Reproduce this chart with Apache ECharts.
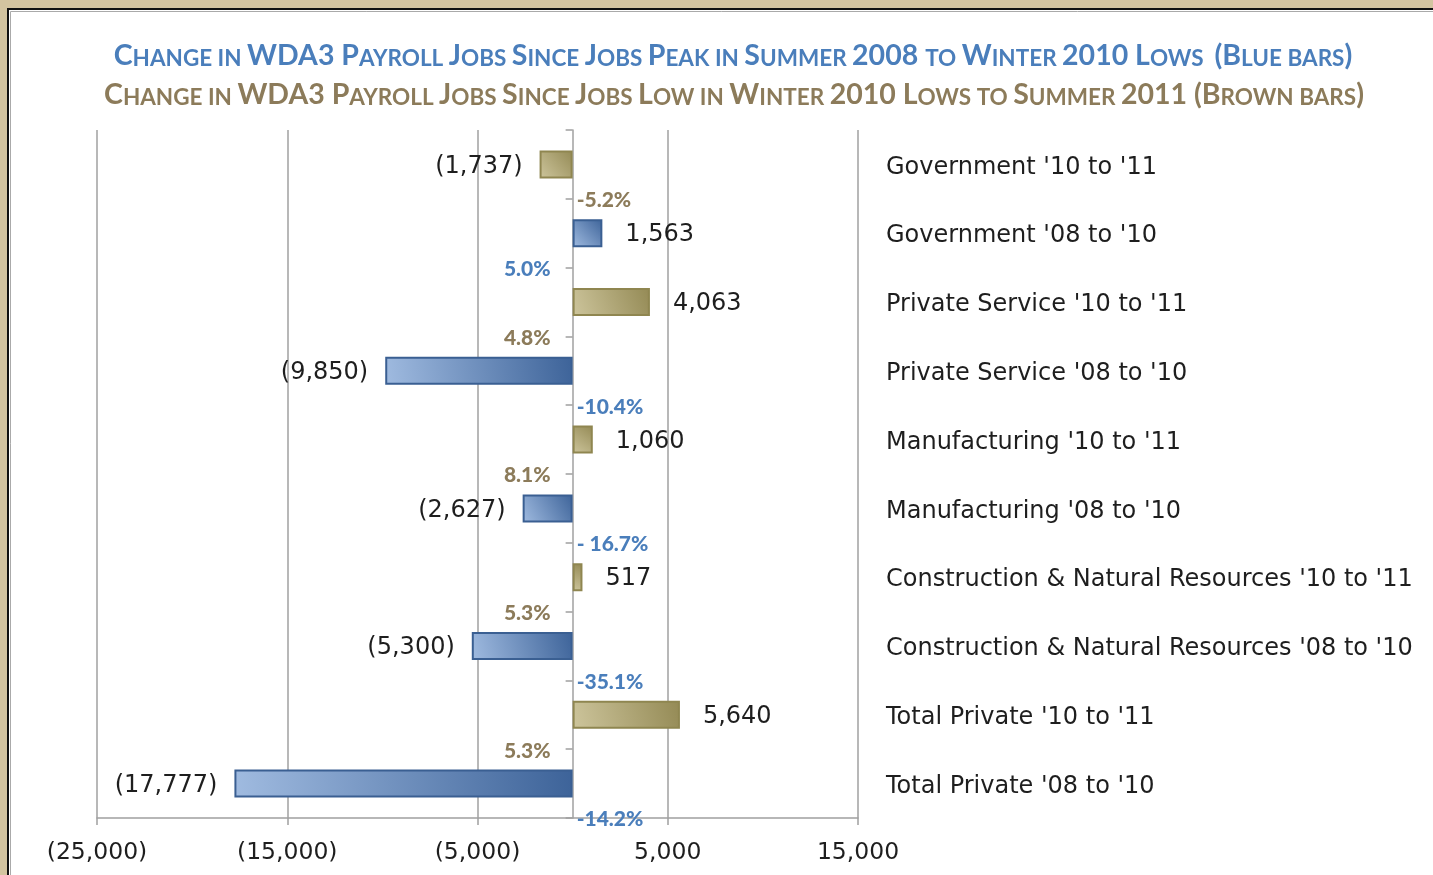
<!DOCTYPE html>
<html>
<head>
<meta charset="utf-8">
<script src="https://cdn.jsdelivr.net/npm/echarts@6/dist/echarts.min.js"></script>
<style>
  html, body { margin: 0; padding: 0; background: #fff; }
  #chart { width: 1433px; height: 875px; }
</style>
</head>
<body>
<div id="chart"></div>
<script>
// categories, top to bottom
var categories = [
  "Government '10 to '11",
  "Government '08 to '10",
  "Private Service '10 to '11",
  "Private Service '08 to '10",
  "Manufacturing '10 to '11",
  "Manufacturing '08 to '10",
  "Construction & Natural Resources '10 to '11",
  "Construction & Natural Resources '08 to '10",
  "Total Private '10 to '11",
  "Total Private '08 to '10"
];
// brown = winter 2010 lows -> summer 2011, blue = summer 2008 peak -> winter 2010
var brownVals = [-1737, '-', 4063, '-', 1060, '-', 517, '-', 5640, '-'];
var blueVals = ['-', 1563, '-', -9850, '-', -2627, '-', -5300, '-', -17777];
var pctLabels = ['-5.2%', '5.0%', '4.8%', '-10.4%', '8.1%', '- 16.7%', '5.3%', '-35.1%', '5.3%', '-14.2%'];
var xTicks = { min: -25000, max: 15000, step: 10000 };

var titleLine1 = 'Change in WDA3 Payroll Jobs Since Jobs Peak in Summer 2008 to Winter 2010 Lows  (Blue bars)';
var titleLine2 = 'Change in WDA3 Payroll Jobs Since Jobs Low in Winter 2010 Lows to Summer 2011 (Brown bars)';

var BLUE = '#4a7ebb', BROWN = '#8c7b5a';
var textFont = 'DejaVu Sans';

function fmt(v) {
  var s = Math.abs(v).toLocaleString('en-US');
  return v < 0 ? '(' + s + ')' : s;
}

// fake small caps with rich text
function smallCaps(str) {
  var out = '', cur = null, buf = '';
  for (var i = 0; i < str.length; i++) {
    var c = str[i];
    var t = (c >= 'a' && c <= 'z') ? 's' : (c === ' ' ? (cur || 'b') : 'b');
    if (t !== cur && buf) { out += '{' + cur + '|' + buf + '}'; buf = ''; }
    cur = t;
    buf += c.toUpperCase();
  }
  if (buf) out += '{' + cur + '|' + buf + '}';
  return out;
}
function capsRich(color) {
  return {
    b: { fontFamily: 'Lato', fontWeight: 'bold', fontSize: 28.5, color: color, verticalAlign: 'bottom', lineHeight: 30 },
    s: { fontFamily: 'Lato', fontWeight: 'bold', fontSize: 22.5, color: color, verticalAlign: 'bottom', lineHeight: 27 }
  };
}

function barItems(vals) {
  return vals.map(function (v) {
    if (v === '-') return '-';
    return { value: v, label: { position: v < 0 ? 'left' : 'right', distance: v < 0 ? 17 : 23 } };
  });
}

var brownGrad = new echarts.graphic.LinearGradient(0, 1, 1, 0, [
  { offset: 0, color: '#cdc59c' }, { offset: 1, color: '#948a55' }
]);
var blueGrad = new echarts.graphic.LinearGradient(0, 1, 1, 0, [
  { offset: 0, color: '#a0bbe0' }, { offset: 1, color: '#3d6399' }
]);

var pctData = pctLabels.map(function (p, i) {
  var v = brownVals[i] !== '-' ? brownVals[i] : blueVals[i];
  var isBrown = brownVals[i] !== '-';
  return {
    value: [0, i],
    label: {
      formatter: p,
      position: v < 0 ? 'right' : 'left',
      distance: v < 0 ? 4 : 22,
      color: isBrown ? BROWN : BLUE
    }
  };
});

var valueLabel = {
  show: true, color: '#1e1e1e', fontFamily: textFont, fontSize: 24, offset: [0, 2],
  formatter: function (p) { return fmt(p.value); }
};

var chart = echarts.init(document.getElementById('chart'));
chart.setOption({
  backgroundColor: '#fff',
  animation: false,
  title: [
    { text: smallCaps(titleLine1), left: 733, top: 40, textAlign: 'center', padding: 0,
      textStyle: { rich: capsRich(BLUE) } },
    { text: smallCaps(titleLine2), left: 734, top: 79, textAlign: 'center', padding: 0,
      textStyle: { rich: capsRich(BROWN) } }
  ],
  graphic: [
    { type: 'rect', shape: { x: 0, y: 0, width: 1433, height: 8 }, style: { fill: '#d3c4a0' }, z: 100 },
    { type: 'rect', shape: { x: 0, y: 0, width: 7, height: 875 }, style: { fill: '#d3c4a0' }, z: 100 },
    { type: 'polyline', shape: { points: [[8, 875], [8, 9], [1433, 9]] }, style: { stroke: '#111', lineWidth: 2, fill: null }, z: 100 },
    { type: 'polyline', shape: { points: [[10.5, 875], [10.5, 11.5], [1433, 11.5]] }, style: { stroke: '#aaa', lineWidth: 1, fill: null }, z: 100 }
  ],
  grid: { left: 97, right: 575, top: 130, bottom: 57, containLabel: false },
  xAxis: {
    type: 'value',
    min: xTicks.min, max: xTicks.max, interval: xTicks.step,
    axisLine: { show: true, onZero: false, lineStyle: { color: '#a0a0a0', width: 1.5 } },
    axisTick: { show: true, length: 7, lineStyle: { color: '#a0a0a0', width: 1.5 } },
    splitLine: { show: true, lineStyle: { color: '#a0a0a0', width: 1.5 } },
    axisLabel: { margin: 23, color: '#1e1e1e', fontFamily: textFont, fontSize: 23.5, formatter: fmt }
  },
  yAxis: [
    {
      type: 'category', data: categories, inverse: true,
      axisLine: { show: true, onZero: true, lineStyle: { color: '#a0a0a0', width: 1.5 } },
      axisTick: { show: true, length: 7, lineStyle: { color: '#a0a0a0', width: 1.5 } },
      axisLabel: { show: false },
      splitLine: { show: false }
    },
    {
      type: 'category', data: categories, inverse: true, position: 'right',
      axisLine: { show: false }, axisTick: { show: false },
      axisLabel: {
        margin: 28, align: 'left',
        formatter: function (v) { return '{c|' + v + '}'; },
        rich: { c: { color: '#1e1e1e', fontFamily: textFont, fontSize: 24, padding: [6, 0, 0, 0] } }
      }
    }
  ],
  series: [
    {
      name: 'Winter 2010 to Summer 2011', type: 'bar', data: barItems(brownVals),
      barWidth: 28, barGap: '-100%',
      itemStyle: { color: brownGrad, borderColor: '#8f8650', borderWidth: 2 },
      label: valueLabel
    },
    {
      name: 'Summer 2008 to Winter 2010', type: 'bar', data: barItems(blueVals),
      barWidth: 28, barGap: '-100%',
      itemStyle: { color: blueGrad, borderColor: '#3a5f92', borderWidth: 2 },
      label: valueLabel
    },
    {
      name: 'pct', type: 'scatter', data: pctData, symbolSize: 0, silent: true,
      itemStyle: { opacity: 1 },
      label: { show: true, opacity: 1, offset: [0, 36], fontFamily: 'Lato', fontWeight: 900, fontSize: 21 }
    }
  ]
});
</script>
</body>
</html>
